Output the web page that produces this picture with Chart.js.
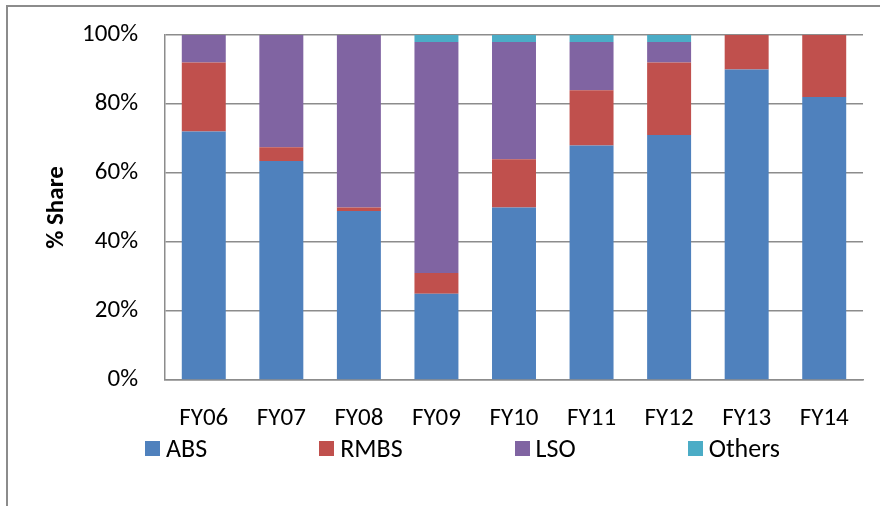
<!DOCTYPE html>
<html>
<head>
<meta charset="utf-8">
<script src="https://cdn.jsdelivr.net/npm/chart.js@4"></script>
<style>
  html, body { margin: 0; padding: 0; background: #fff; }
  body { width: 880px; height: 506px; position: relative; overflow: hidden; font-family: Carlito, Calibri, Lato, sans-serif; }
  #frame { position: absolute; left: 6px; top: 5px; width: 900px; height: 600px; border-left: 2px solid #8c8c8c; border-top: 2px solid #8c8c8c; box-sizing: border-box; }
  #wrap { position: absolute; left: 0; top: 0; width: 880px; height: 506px; }
  #legend { position: absolute; left: 145px; top: 432px; display: flex; gap: 112px; align-items: center; font-size: 26px; color: #000; }
  .item { display: flex; align-items: center; gap: 6px; white-space: nowrap; }
  .box { width: 15px; height: 15px; }
</style>
</head>
<body>
<div id="frame"></div>
<div id="wrap"><canvas id="c" width="880" height="506"></canvas></div>
<div id="legend"></div>
<script>
const categories = ["FY06","FY07","FY08","FY09","FY10","FY11","FY12","FY13","FY14"];
const seriesNames = ["ABS","RMBS","LSO","Others"];
const absValues    = [72, 63.5, 49, 25, 50, 68, 71, 90, 82];
const rmbsValues   = [20, 4, 1, 6, 14, 16, 21, 10, 18];
const lsoValues    = [8, 32.5, 50, 67, 34, 14, 6, 0, 0];
const othersValues = [0, 0, 0, 2, 2, 2, 2, 0, 0];
const seriesColors = ["#4F81BD","#C0504D","#8064A2","#4BACC6"];
const yTicks = [0, 20, 40, 60, 80, 100];

const FONT = "Carlito, Calibri, Lato, sans-serif";
const allValues = [absValues, rmbsValues, lsoValues, othersValues];

const datasets = seriesNames.map((name, i) => ({
  label: name,
  data: allValues[i],
  backgroundColor: seriesColors[i],
  borderWidth: 0,
  categoryPercentage: 1.0,
  barPercentage: 0.567
}));

new Chart(document.getElementById('c'), {
  type: 'bar',
  data: { labels: categories, datasets },
  options: {
    responsive: false,
    animation: false,
    devicePixelRatio: 1,
    layout: { padding: { left: 0, right: 17, top: 35, bottom: 0 } },
    plugins: { legend: { display: false }, tooltip: { enabled: false } },
    scales: {
      x: {
        stacked: true,
        grid: { display: false, drawTicks: false },
        border: { display: true, color: '#8c8c8c', width: 1.5 },
        ticks: { color: '#000', font: { family: FONT, size: 25 }, padding: 24, maxRotation: 0 },
        afterFit: (s) => { s.height = 126; s.paddingLeft = 0; s.paddingRight = 0; }
      },
      y: {
        stacked: true,
        min: 0, max: 100,
        afterBuildTicks: (s) => { s.ticks = yTicks.map(v => ({ value: v })); },
        grid: { color: '#8c8c8c', lineWidth: 1.5, drawTicks: false },
        border: { display: true, color: '#8c8c8c', width: 1.5 },
        ticks: { color: '#000', font: { family: FONT, size: 25 }, padding: 27, callback: (v) => v + '%' },
        title: { display: true, text: '% Share', color: '#000', font: { family: FONT, size: 25, weight: 'bold' }, padding: { top: 42, bottom: 0 } },
        afterFit: (s) => { s.width = 165; s.paddingTop = 0; s.paddingBottom = 0; }
      }
    }
  }
});

const legend = document.getElementById('legend');
seriesNames.forEach((name, i) => {
  const item = document.createElement('div');
  item.className = 'item';
  const box = document.createElement('div');
  box.className = 'box';
  box.style.background = seriesColors[i];
  const t = document.createElement('span');
  t.textContent = name;
  item.appendChild(box); item.appendChild(t);
  legend.appendChild(item);
});
</script>
</body>
</html>
